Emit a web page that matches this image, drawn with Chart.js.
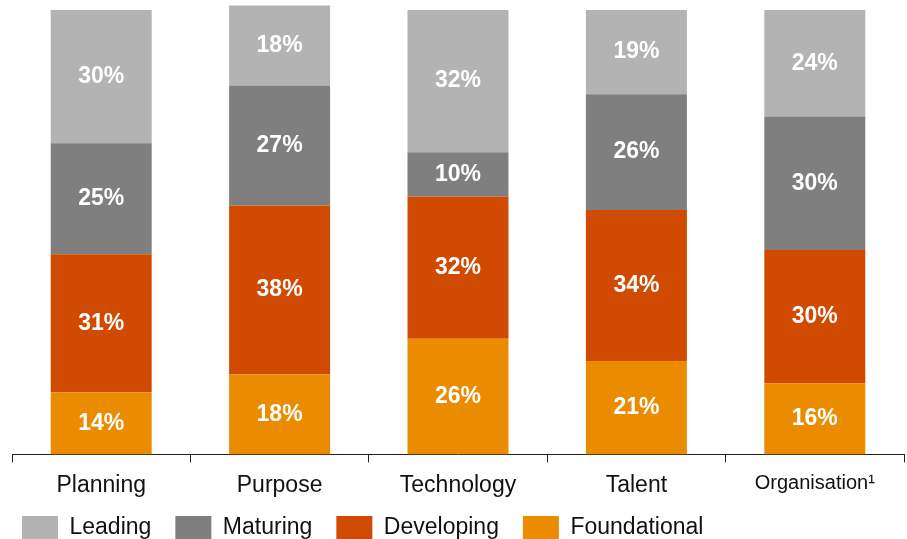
<!DOCTYPE html>
<html>
<head>
<meta charset="utf-8">
<script src="https://cdn.jsdelivr.net/npm/chart.js@4"></script>
<style>
  html, body { margin: 0; padding: 0; background: #fff; overflow: hidden; }
  #wrap { position: relative; width: 907px; height: 566px; }
</style>
</head>
<body>
<div id="wrap"><canvas id="maturityChart"></canvas></div>
<script>
// Data
const categories = ['Planning', 'Purpose', 'Technology', 'Talent', 'Organisation\u00B9'];
const foundational = [14, 18, 26, 21, 16];
const developing = [31, 38, 32, 34, 30];
const maturing = [25, 27, 10, 26, 30];
const leading = [30, 18, 32, 19, 24];

const FONT = '"Liberation Sans", Arial, sans-serif';

// Draws the percentage inside each segment
const segmentLabels = {
    id: 'segmentLabels',
    afterDatasetsDraw(chart) {
        const ctx = chart.ctx;
        ctx.save();
        ctx.fillStyle = '#ffffff';
        ctx.font = 'bold 23px ' + FONT;
        ctx.textAlign = 'center';
        ctx.textBaseline = 'middle';
        chart.data.datasets.forEach((ds, i) => {
            const meta = chart.getDatasetMeta(i);
            meta.data.forEach((bar, j) => {
                const y = (bar.y + bar.base) / 2;
                ctx.fillText(ds.data[j] + '%', bar.x, y);
            });
        });
        ctx.restore();
    }
};

// Nudge the legend up/left so it sits like the original
const legendShift = {
    id: 'legendShift',
    afterLayout(chart) {
        const lg = chart.legend;
        if (!lg) return;
        lg.left -= 14;
        lg.right -= 14;
        lg.top -= 16;
        lg.bottom -= 16;
    }
};

const ctx = document.getElementById('maturityChart').getContext('2d');
new Chart(ctx, {
    type: 'bar',
    data: {
        labels: categories,
        datasets: [
            { label: 'Foundational', data: foundational, backgroundColor: '#eb8c00' },
            { label: 'Developing', data: developing, backgroundColor: '#d04a02' },
            { label: 'Maturing', data: maturing, backgroundColor: '#7f7f7f' },
            { label: 'Leading', data: leading, backgroundColor: '#b3b3b3' }
        ]
    },
    options: {
        responsive: true,
        maintainAspectRatio: false,
        animation: false,
        layout: {
            padding: { left: 12, right: 3, top: 1, bottom: 0 }
        },
        datasets: {
            bar: {
                barPercentage: 0.566,
                categoryPercentage: 1,
                borderWidth: 0
            }
        },
        scales: {
            x: {
                stacked: true,
                offset: true,
                grid: {
                    offset: true,
                    drawOnChartArea: false,
                    drawTicks: true,
                    tickLength: 8,
                    color: '#222'
                },
                border: { display: true, color: '#222', width: 1 },
                ticks: {
                    color: '#111',
                    padding: 9,
                    font: function(c) {
                        return c.index === 4 ? { family: FONT, size: 20 } : { family: FONT, size: 23 };
                    }
                }
            },
            y: {
                stacked: true,
                display: false,
                min: 0,
                max: 102
            }
        },
        plugins: {
            legend: {
                position: 'bottom',
                align: 'start',
                reverse: true,
                labels: {
                    boxWidth: 36,
                    boxHeight: 24,
                    padding: 24,
                    color: '#111',
                    font: { family: FONT, size: 23 }
                }
            },
            tooltip: { enabled: false }
        }
    },
    plugins: [segmentLabels, legendShift]
});
</script>
</body>
</html>
